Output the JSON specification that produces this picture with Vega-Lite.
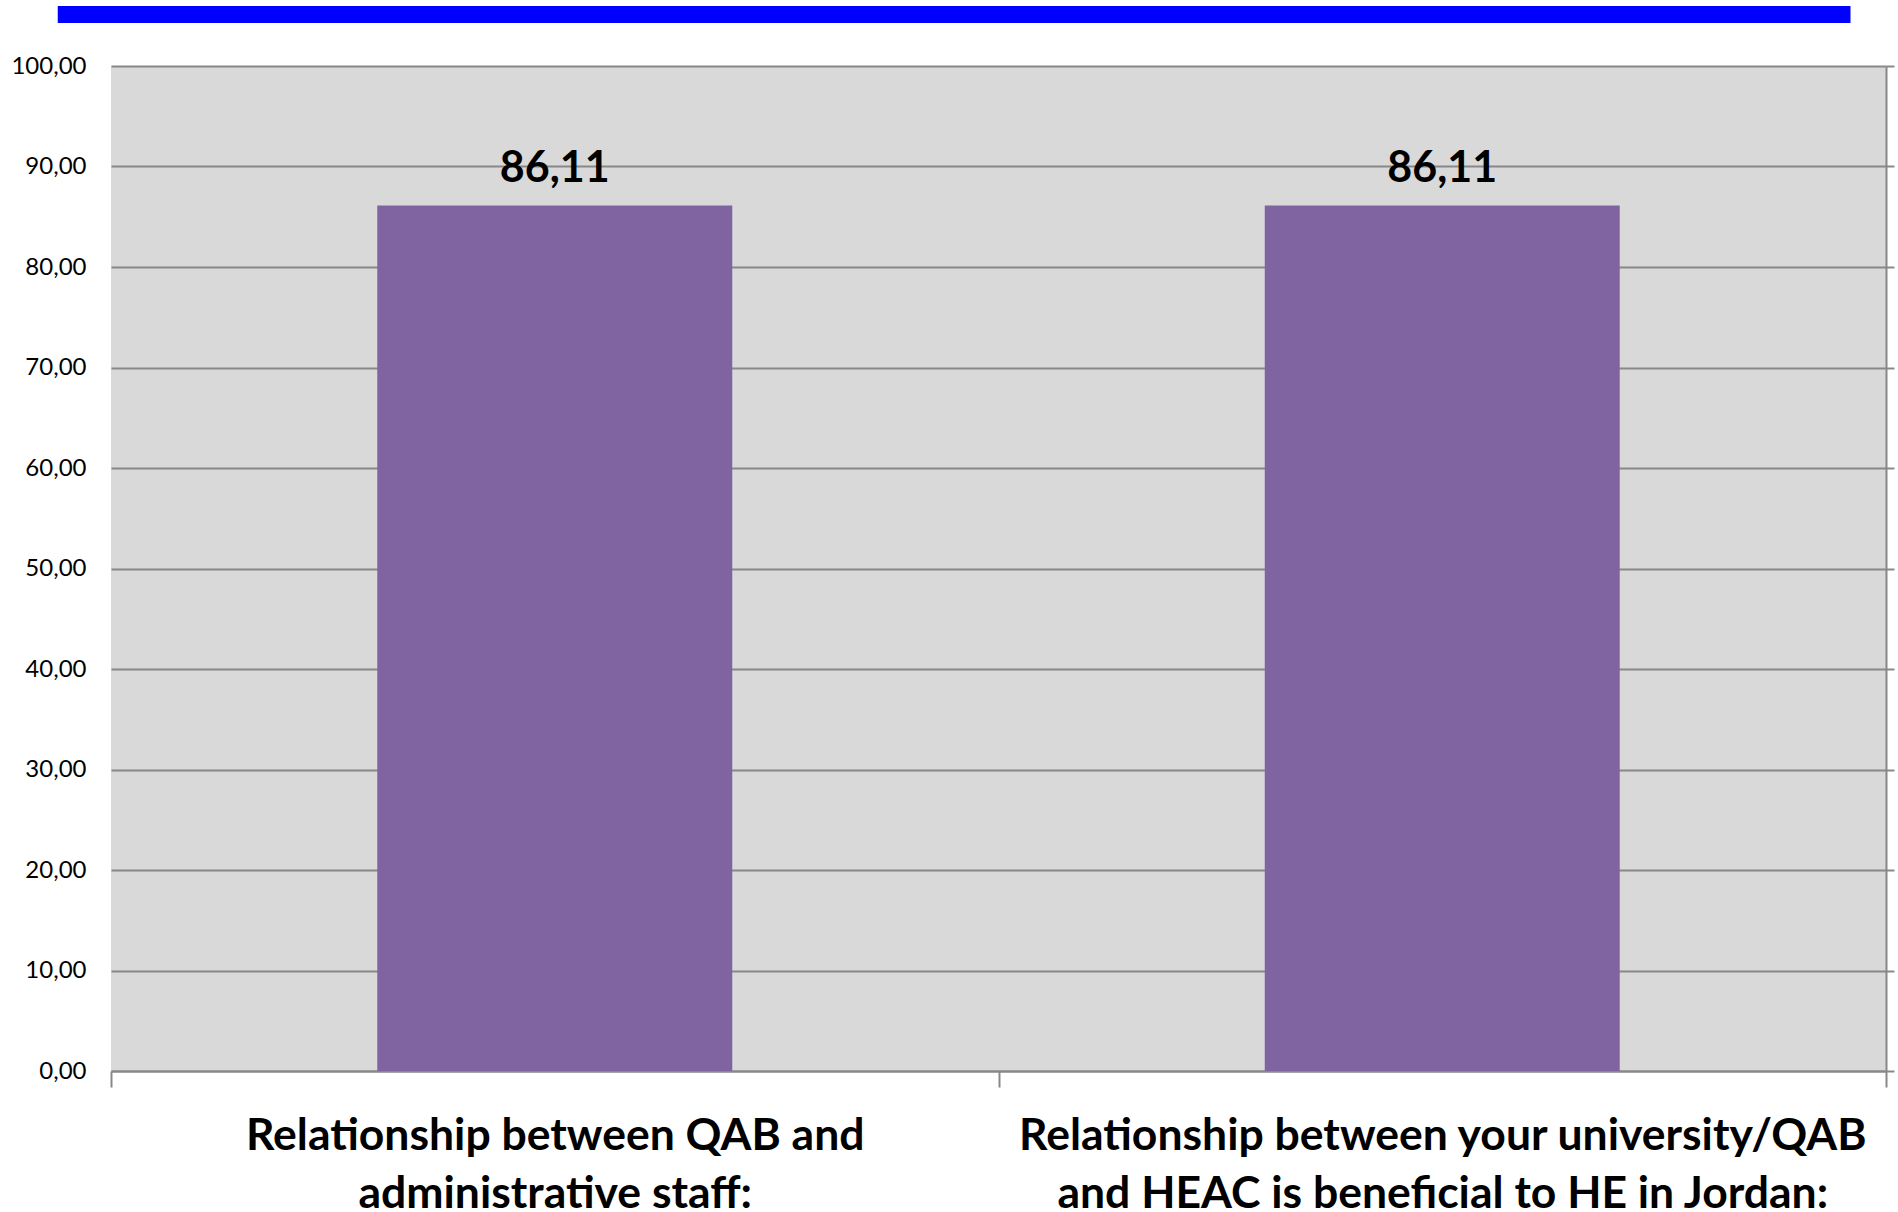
{
  "$schema": "https://vega.github.io/schema/vega-lite/v6.json",
  "padding": {"left": 10, "top": 6, "right": 0, "bottom": 0},
  "background": "white",
  "spacing": 31,
  "config": {
    "view": {"stroke": null},
    "font": "Lato",
    "locale": {"number": {"decimal": ",", "thousands": ".", "grouping": [3], "currency": ["", " €"]}}
  },
  "vconcat": [
    {
      "width": 1775,
      "height": 17,
      "data": {"values": [{"part": "header", "start": -3, "end": 98}]},
      "mark": {"type": "rect", "color": "#0000FF", "clip": false},
      "encoding": {
        "x": {"field": "start", "type": "quantitative", "scale": {"domain": [0, 100]}, "axis": null},
        "x2": {"field": "end"},
        "y": {"datum": 0, "type": "quantitative", "scale": {"domain": [0, 1]}, "axis": null},
        "y2": {"datum": 1}
      }
    },
    {
      "width": 1775,
      "height": 1005,
      "view": {"fill": "#D9D9D9", "stroke": null},
      "data": {"values": [
        {"category": "Relationship between QAB and administrative staff:", "value": 86.11},
        {"category": "Relationship between your university/QAB and HEAC is beneficial to HE in Jordan:", "value": 86.11}
      ]},
      "encoding": {
        "x": {
          "field": "category", "type": "nominal", "sort": null,
          "scale": {"paddingInner": 0, "paddingOuter": 0},
          "axis": {
            "title": null, "labelAngle": 0, "tickBand": "extent",
            "tickSize": 16, "tickColor": "#888888", "tickWidth": 2,
            "domainColor": "#888888", "domainWidth": 2, "grid": false,
            "labelFont": "Lato", "labelFontWeight": "bold", "labelFontSize": 44.5,
            "labelColor": "#000000", "labelPadding": 27, "labelLineHeight": 58, "labelLimit": 0,
            "labelExpr": "datum.value == 'Relationship between QAB and administrative staff:' ? ['Relationship between QAB and', 'administrative staff:'] : datum.value == 'Relationship between your university/QAB and HEAC is beneficial to HE in Jordan:' ? ['Relationship between your university/QAB', 'and HEAC is beneficial to HE in Jordan:'] : ''"
          }
        }
      },
      "layer": [
        {
          "mark": {"type": "bar", "color": "#8064A2", "width": {"band": 0.4}},
          "encoding": {
            "y": {
              "field": "value", "type": "quantitative", "scale": {"domain": [0, 100]},
              "axis": {
                "orient": "left", "title": null, "domain": false, "ticks": false,
                "grid": true, "gridColor": "#888888", "gridWidth": 2,
                "values": [0, 10, 20, 30, 40, 50, 60, 70, 80, 90, 100],
                "format": ".2f", "labelFont": "Lato", "labelFontSize": 24,
                "labelColor": "#000000", "labelPadding": 25
              }
            }
          }
        },
        {
          "mark": {"type": "text", "font": "Lato", "fontWeight": "bold", "fontSize": 43, "color": "#000000", "baseline": "alphabetic", "dy": -24},
          "encoding": {
            "y": {
              "field": "value", "type": "quantitative",
              "axis": {
                "orient": "right", "title": null, "labels": false, "grid": false,
                "ticks": true, "tickSize": 8, "tickColor": "#888888", "tickWidth": 2,
                "domain": true, "domainColor": "#888888", "domainWidth": 2,
                "values": [0, 10, 20, 30, 40, 50, 60, 70, 80, 90, 100]
              }
            },
            "text": {"field": "value", "type": "quantitative", "format": ".2f"}
          }
        }
      ],
      "resolve": {"axis": {"y": "independent"}}
    }
  ]
}
